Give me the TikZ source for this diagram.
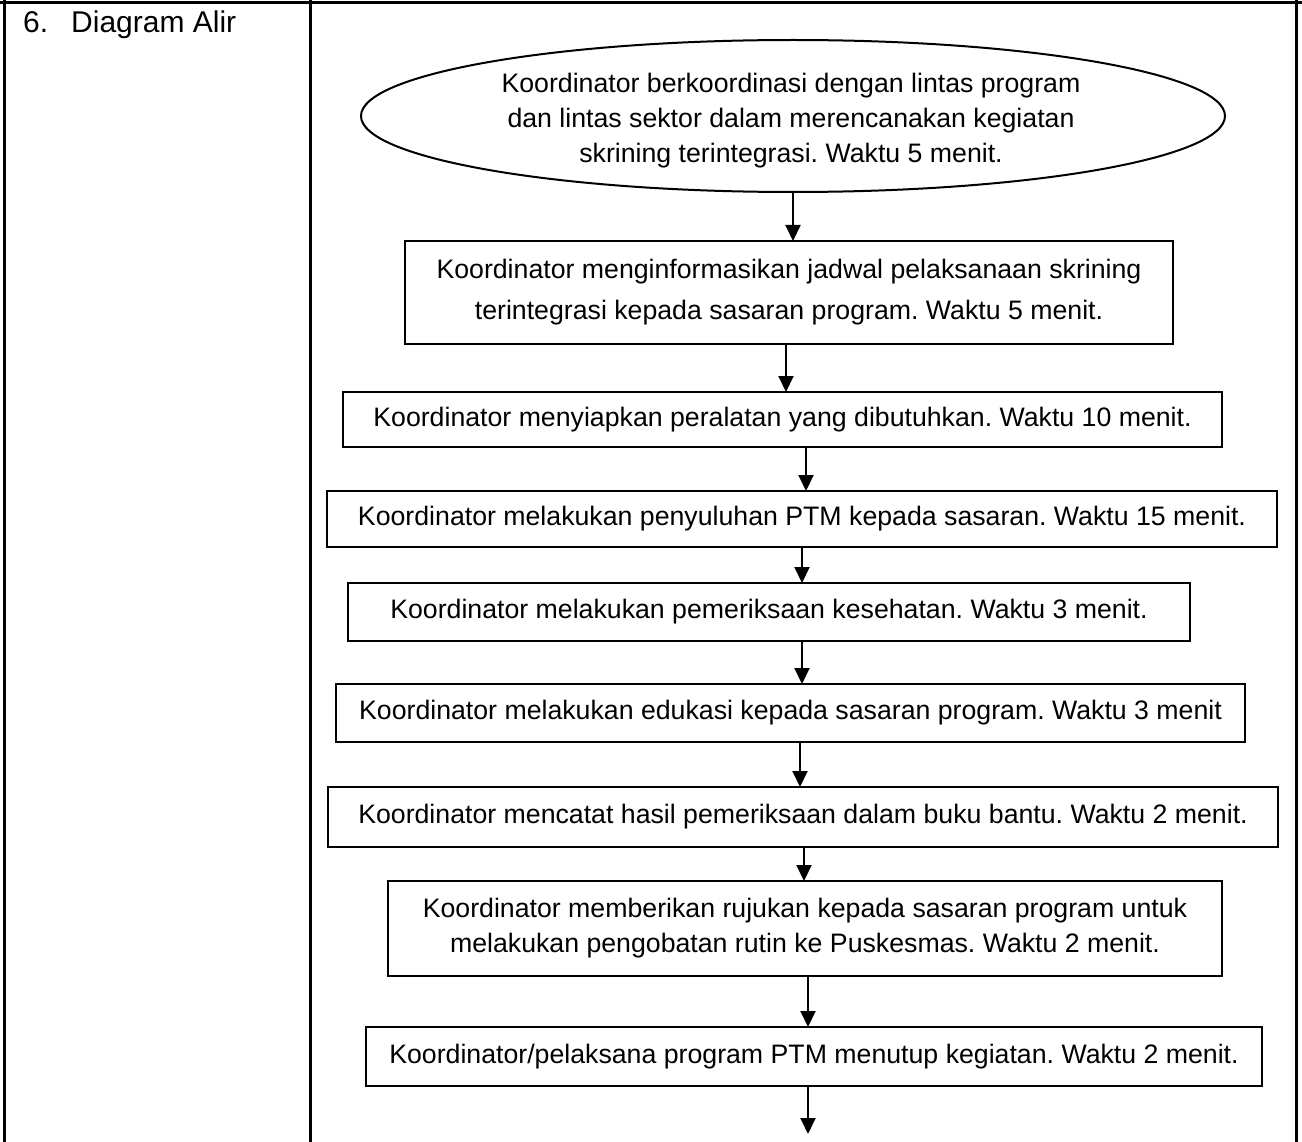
\documentclass[tikz,border=0pt]{standalone}
\usepackage{fontspec}
\setmainfont{Liberation Sans}
\usetikzlibrary{shapes.geometric,arrows.meta,calc}
\frenchspacing
\tikzset{
  frameline/.style={line width=3pt, black},
  flowbox/.style={draw, line width=2pt, rectangle, inner sep=0pt, outer sep=0pt,
    font=\fontsize{26.7}{35}\selectfont\frenchspacing, text height=19.3pt, text depth=5.6pt},
  flowtext/.style={align=center, inner sep=0pt, font=\fontsize{26.7}{35}\selectfont\frenchspacing},
  arr/.style={line width=2pt, -{Triangle[width=15pt,length=16pt]}},
}
\begin{document}
\begin{tikzpicture}[x=1pt,y=-1pt]
\useasboundingbox (0,0) rectangle (1302,1142);
% table frame
\draw[frameline] (0,3) -- (1302,3);
\draw[frameline] (4,0) -- (4,1142);
\draw[frameline] (310,0) -- (310,1142);
\draw[frameline] (1296,0) -- (1296,1142);
\node[anchor=base west, inner sep=0pt, font=\fontsize{30}{36}\selectfont] (hdr) at (23,33) {6.\hspace{23pt}Diagram Alir};
% start ellipse
\node[draw, ellipse, line width=2pt, minimum width=864pt, minimum height=152pt, inner sep=0pt, outer sep=0pt] (e) at (793,116) {};
\node[flowtext] (et) at (791,121) {Koordinator berkoordinasi dengan lintas program\\dan lintas sektor dalam merencanakan kegiatan\\skrining terintegrasi. Waktu 5 menit.};
% boxes
\node[flowbox, minimum width=768pt, minimum height=103pt, align=center, text height=, text depth=, font=\fontsize{26.7}{41}\selectfont\frenchspacing] (b2) at (789,292.5) {Koordinator menginformasikan jadwal pelaksanaan skrining\\terintegrasi kepada sasaran program. Waktu 5 menit.};
\node[flowbox, minimum width=879pt, minimum height=55pt] (b3) at (782.5,419.5) {Koordinator menyiapkan peralatan yang dibutuhkan. Waktu 10 menit.};
\node[flowbox, minimum width=950pt, minimum height=56pt] (b4) at (802,519) {Koordinator melakukan penyuluhan PTM kepada sasaran. Waktu 15 menit.};
\node[flowbox, minimum width=842pt, minimum height=58pt] (b5) at (769,612) {Koordinator melakukan pemeriksaan kesehatan. Waktu 3 menit.};
\node[flowbox, minimum width=909pt, minimum height=58pt] (b6) at (790.5,713) {Koordinator melakukan edukasi kepada sasaran program. Waktu 3 menit};
\node[flowbox, minimum width=950pt, minimum height=60pt] (b7) at (803,817) {Koordinator mencatat hasil pemeriksaan dalam buku bantu. Waktu 2 menit.};
\node[flowbox, minimum width=834pt, minimum height=95pt, align=center, text height=, text depth=] (b8) at (805,928.5) {Koordinator memberikan rujukan kepada sasaran program untuk\\melakukan pengobatan rutin ke Puskesmas. Waktu 2 menit.};
\node[flowbox, minimum width=896pt, minimum height=59pt] (b9) at (814,1056.5) {Koordinator/pelaksana program PTM menutup kegiatan. Waktu 2 menit.};
\coordinate (end) at (808,1134);
% arrows
\draw[arr] (e.south) -- (e.south |- b2.north);
\draw[arr] ([xshift=-3pt]b2.south) -- ([xshift=-3pt]b2.south |- b3.north);
\draw[arr] ([xshift=23.5pt]b3.south) -- ([xshift=23.5pt]b3.south |- b4.north);
\draw[arr] (b4.south) -- (b4.south |- b5.north);
\draw[arr] ([xshift=33pt]b5.south) -- ([xshift=33pt]b5.south |- b6.north);
\draw[arr] ([xshift=9.5pt]b6.south) -- ([xshift=9.5pt]b6.south |- b7.north);
\draw[arr] ([xshift=1pt]b7.south) -- ([xshift=1pt]b7.south |- b8.north);
\draw[arr] ([xshift=3pt]b8.south) -- ([xshift=3pt]b8.south |- b9.north);
\draw[arr] ([xshift=-6pt]b9.south) -- (end);
\end{tikzpicture}
\end{document}
